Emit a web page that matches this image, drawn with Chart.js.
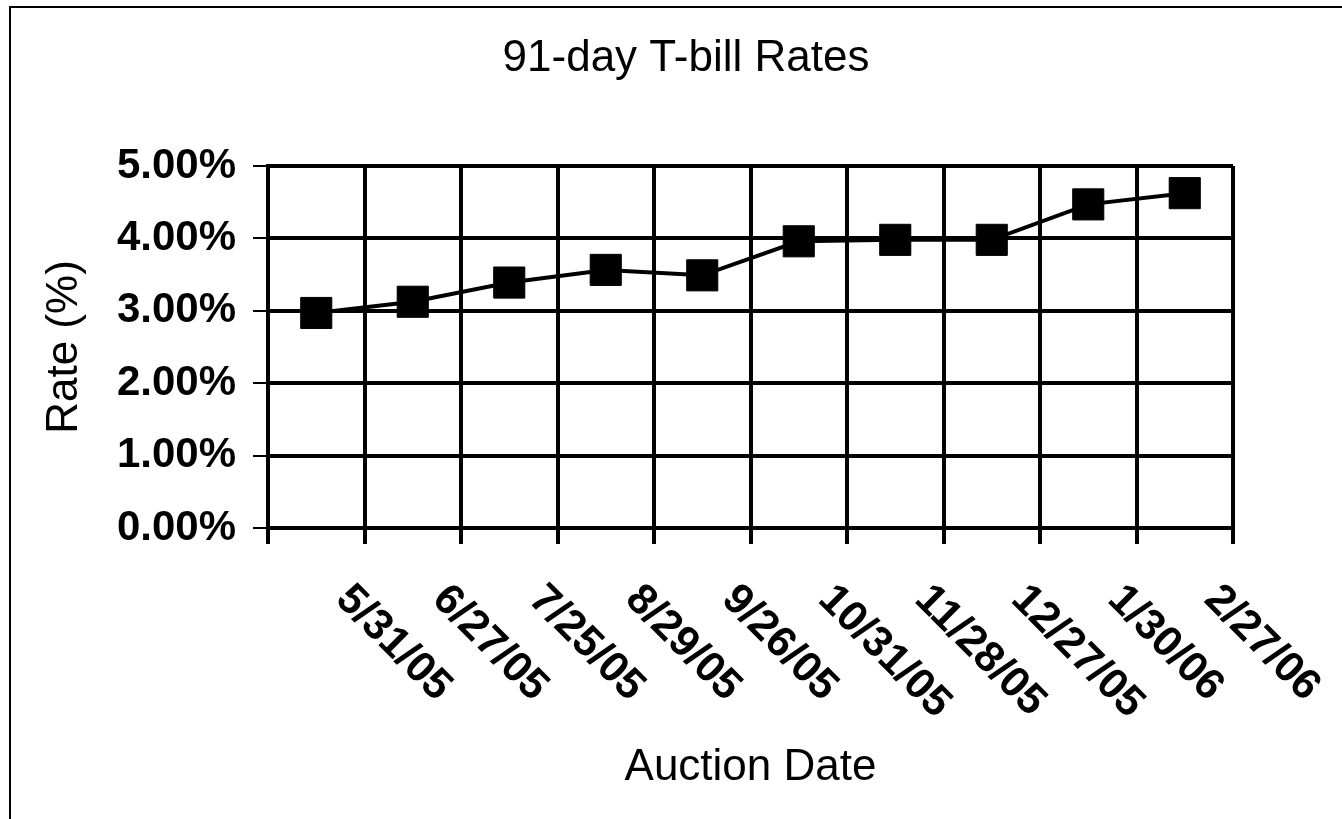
<!DOCTYPE html>
<html>
<head>
<meta charset="utf-8">
<script src="https://cdn.jsdelivr.net/npm/chart.js"></script>
<style>
  body { margin: 0; background: #fff; }
  #frame { position: absolute; left: 9px; top: 6px; width: 1400px; height: 900px;
           border-left: 2px solid #000; border-top: 2px solid #000; }
  #myChart { position: absolute; left: 0; top: 0; }
</style>
</head>
<body>
<div id="frame"></div>
<canvas id="myChart" width="1342" height="819"></canvas>
<script>
// auction dates and 91-day rates (%)
const auctionDates = ['5/31/05', '6/27/05', '7/25/05', '8/29/05', '9/26/05',
                      '10/31/05', '11/28/05', '12/27/05', '1/30/06', '2/27/06'];
const rates = [2.97, 3.125, 3.39, 3.565, 3.49, 3.96, 3.98, 3.98, 4.47, 4.625];
const rateMin = 0, rateMax = 5, rateStep = 1;

const FONT = "'Liberation Sans', Arial, sans-serif";

// draws the date labels slanted down to the right, starting under each category
const slantLabels = {
  id: 'slantLabels',
  afterDraw(chart) {
    const ctx = chart.ctx;
    const x = chart.scales.x;
    ctx.save();
    ctx.fillStyle = '#000';
    ctx.font = 'bold 43px ' + FONT;
    ctx.textAlign = 'left';
    ctx.textBaseline = 'alphabetic';
    auctionDates.forEach((lab, i) => {
      ctx.save();
      ctx.translate(x.getPixelForTick(i) + 18, x.top + 73);
      ctx.rotate(Math.PI / 4);
      ctx.fillText(lab, 0, 0);
      ctx.restore();
    });
    ctx.restore();
  }
};

const config = {
  type: 'line',
  data: {
    labels: auctionDates,
    datasets: [{
      data: rates,
      borderColor: '#000',
      borderWidth: 4,
      backgroundColor: '#000',
      pointStyle: 'rect',
      pointRadius: 22,
      pointBorderWidth: 1,
      pointBackgroundColor: '#000',
      tension: 0
    }]
  },
  options: {
    responsive: false,
    animation: false,
    layout: { padding: { left: 30, right: 0, top: 0, bottom: 0 } },
    plugins: {
      legend: { display: false },
      tooltip: { enabled: false },
      title: {
        display: true,
        text: '91-day T-bill Rates',
        color: '#000',
        font: { family: FONT, size: 44, weight: 'normal' },
        padding: { top: 32.6, bottom: 80.6 }
      }
    },
    scales: {
      x: {
        offset: true,
        grid: { offset: true, color: '#000', lineWidth: 4, tickLength: 16, tickWidth: 4 },
        border: { display: true, color: '#000', width: 4 },
        ticks: { display: false },
        title: {
          display: true,
          text: 'Auction Date',
          color: '#000',
          font: { family: FONT, size: 44, weight: 'normal' },
          padding: { top: 0, bottom: 24.6 }
        },
        afterFit(s) { s.height = 291; }
      },
      y: {
        min: rateMin,
        max: rateMax,
        grid: { color: '#000', lineWidth: 4, tickLength: 15, tickWidth: 2 },
        border: { display: true, color: '#000', width: 4 },
        ticks: {
          stepSize: rateStep,
          color: '#000',
          padding: 17,
          font: { family: FONT, size: 42, weight: 'bold' },
          callback: v => v.toFixed(2) + '%'
        },
        title: {
          display: true,
          text: 'Rate (%)',
          color: '#000',
          font: { family: FONT, size: 44, weight: 'normal' },
          padding: { top: 8.6, bottom: 0 }
        },
        afterFit(s) { s.width = 238; }
      },
      // empty right margin so the plot ends where the reference's does
      yRight: {
        position: 'right',
        grid: { display: false },
        border: { display: false },
        ticks: { display: false },
        afterFit(s) { s.width = 109; }
      }
    }
  },
  plugins: [slantLabels]
};

new Chart(document.getElementById('myChart').getContext('2d'), config);
</script>
</body>
</html>
